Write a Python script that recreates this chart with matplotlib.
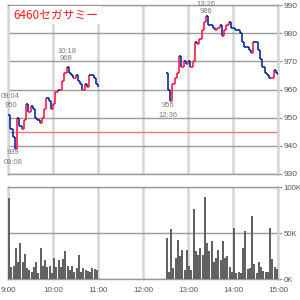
import numpy as np
import matplotlib
matplotlib.use("Agg")
import matplotlib.pyplot as plt
from matplotlib.collections import LineCollection

plt.rcParams['font.family'] = ['Liberation Sans', 'DejaVu Sans']

# 価格 (3分ごと, 9:00からの経過分)
am_t = list(range(0, 121, 3))
am_price = [951, 946, 943, 939, 950, 947, 946, 949, 955, 952, 954, 953, 950, 949,
            948, 950, 953, 957, 956, 953, 955, 959, 960, 960, 963, 966, 968, 966,
            965, 964, 965, 963, 962, 960, 962, 961, 965, 965, 964, 962, 961]
pm_t = list(range(210, 361, 3))
pm_price = [966, 960, 956, 962, 964, 966, 972, 968, 970, 969, 970, 968, 970, 977,
            976, 978, 981, 984, 986, 983, 983, 982, 981, 982, 983, 979, 981, 983,
            984, 982, 982, 981, 981, 980, 977, 975, 975, 974, 973, 977, 977, 974,
            971, 968, 966, 965, 964, 964, 967, 966, 965]

# 出来高 (K株, 3分ごと)
am_vol = [88, 13, 14, 34, 18, 39, 19, 27, 12, 10, 8, 13, 19, 7, 34, 14, 21, 13, 14, 6,
          23, 13, 21, 13, 22, 30, 14, 10, 14, 8, 12, 26, 8, 12, 10, 9, 8, 12, 11, 10]
pm_vol = [45, 8, 54, 12, 23, 42, 25, 32, 10, 31, 14, 10, 76, 30, 26, 34, 26, 89, 39, 30,
          41, 19, 23, 31, 21, 41, 23, 25, 13, 8, 55, 6, 8, 6, 34, 52, 11, 12, 68, 16,
          7, 18, 13, 9, 8, 8, 55, 22, 13, 11]

prev_close = 945
price_ticks = [930, 940, 950, 960, 970, 980, 990]
vol_ticks = [0, 50, 100]
vol_labels = ['0K', '50K', '100K']
hour_ticks = [0, 60, 120, 180, 240, 300, 360]
hour_labels = ['9:00', '10:00', '11:00', '12:00', '13:00', '14:00', '15:00']

# 高値・安値の注記 (時刻, 値, 表示位置t)
note_time = ["10:18", "09:04", "09:08", "12:36", "13:26"]
note_val = [968, 950, 939, 956, 986]
note_t = [78, 3.5, 7, 213, 264]
# 値ラベル/時刻ラベルのずれ (pt, +で上)
note_off = [(5, 10), (7.5, 14.5), (-0.5, -7.5), (-0.8, -8.3), (2.5, 7.5)]

UP = '#ff1a4a'
DOWN = '#0c2c9c'
GRID_H = '#9a9a9a'
GRID_V = '#d6d6d6'
TXT = '#555555'

fig = plt.figure(figsize=(3, 3), dpi=100)
ax = fig.add_axes([8/300, 1-174/300, 270/300, 169/300])
axv = fig.add_axes([8/300, 1-279/300, 270/300, 92/300])


def step_segments(t, p):
    segs, cols = [], []
    for i in range(len(t) - 1):
        c = UP if p[i+1] > p[i] else DOWN
        segs.append([(t[i], p[i]), (t[i+1], p[i])])
        cols.append(c)
        segs.append([(t[i+1], p[i]), (t[i+1], p[i+1])])
        cols.append(c)
    return segs, cols


for t, p in [(am_t, am_price), (pm_t, pm_price)]:
    segs, cols = step_segments(t, p)
    ax.add_collection(LineCollection(segs, colors=cols, linewidths=1.2, zorder=3))

ax.axhline(prev_close, color='#f07878', lw=1, zorder=2)

for a in (ax, axv):
    a.set_xlim(0, 360)
    a.set_xticks(hour_ticks)
    a.yaxis.tick_right()
    a.tick_params(axis='y', length=3, width=1, color=GRID_H, labelsize=6,
                  labelcolor=TXT, pad=0.8)
    a.tick_params(axis='x', length=0, labelsize=5.8, labelcolor=TXT)
    a.grid(axis='y', color=GRID_H, lw=1, zorder=1)
    a.grid(axis='x', color=GRID_V, lw=1.8, zorder=1)
    for s in ('left', 'right'):
        a.spines[s].set_color(GRID_V)
        a.spines[s].set_linewidth(1.8)
    for s in ('top', 'bottom'):
        a.spines[s].set_color(GRID_H)
        a.spines[s].set_linewidth(1)

ax.set_ylim(930, 990)
ax.set_yticks(price_ticks)
ax.set_xticklabels([])

axv.set_ylim(0, 100)
axv.set_yticks(vol_ticks)
axv.set_yticklabels(vol_labels)
axv.tick_params(axis='y', labelsize=5.6)
axv.set_xticklabels(hour_labels)
axv.tick_params(axis='x', pad=6)

axv.bar([x + 1.5 for x in am_t[:-1]], am_vol, width=2.7, color='#626262', zorder=3)
axv.bar([x + 1.5 for x in pm_t[:-1]], pm_vol, width=2.7, color='#626262', zorder=3)

for lab, val, tt, (dv, dl) in zip(note_time, note_val, note_t, note_off):
    va = 'baseline' if dv > 0 else 'top'
    ax.annotate(str(val), (tt, val), xytext=(0, dv), textcoords='offset points',
                ha='center', va=va, fontsize=5.5, color='#7a7a7a')
    ax.annotate(lab, (tt, val), xytext=(0, dl), textcoords='offset points',
                ha='center', va=va, fontsize=5.5, color='#7a7a7a')

fig.text(13/300, 1-15/300, "6460セガサミー", color='#ff1a1a', fontsize=8.5,
         family=['Noto Sans CJK JP', 'DejaVu Sans'], va='center', ha='left',
         bbox=dict(facecolor='white', edgecolor='none', pad=2))

fig.savefig("out.png", dpi=100)
